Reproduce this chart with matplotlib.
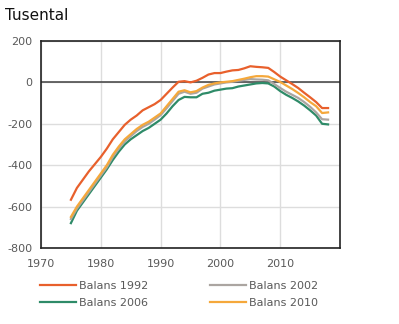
import matplotlib
matplotlib.use("Agg")
import matplotlib.pyplot as plt
import numpy as np

years = list(range(1975, 2019))
balans_1992 = [-567, -510, -470, -430, -395, -360, -320, -275, -240, -205, -180, -160, -135, -120, -105, -85,
               -55, -25, 3, 6, 0, 8, 22, 38, 45, 45, 52, 58, 60, 68, 78, 75, 73, 70, 50, 28,
               10, -8, -27, -50, -72, -95, -124, -124]
balans_2002 = [-660, -610, -570, -530, -490, -450, -410, -360, -320, -285, -260, -235, -215, -200, -180, -158,
               -125, -90, -55, -45, -55, -50, -30, -20, -10, -5, 0, 3, 8, 12, 16, 14, 13, 10, -8, -27,
               -45, -60, -75, -95, -118, -145, -178, -180]
balans_2006 = [-680, -620, -580, -540, -500, -460, -420, -375, -335, -300, -275, -255, -235, -220, -200, -180,
               -150, -115, -85, -70, -72, -72, -55, -50, -40, -35, -30, -28, -20, -15, -10, -5, -3, -5, -20, -42,
               -60, -75, -92, -112, -135, -160, -200, -203]
balans_2010 = [-650, -600, -560, -520, -480, -440, -400, -350, -310, -275, -250, -225, -205, -190, -170, -150,
               -115, -80, -45, -38, -48, -42, -25, -12, -5, 0, 3, 6, 12, 18, 25, 30, 30, 28, 15, 2,
               -15, -32, -51, -72, -95, -115, -148, -145]
xticks = [1970, 1980, 1990, 2000, 2010]
yticks = [-800, -600, -400, -200, 0, 200]

fig = plt.figure(figsize=(3.99, 3.24), dpi=100)
ax = fig.add_axes([0.1028, 0.2346, 0.7494, 0.6389])

lw = 1.6
ax.plot(years, balans_1992, color="#E8602C", lw=lw, label="Balans 1992", zorder=3)
ax.plot(years, balans_2006, color="#2E8B68", lw=lw, label="Balans 2006", zorder=3)
ax.plot(years, balans_2002, color="#ABA5A1", lw=lw, label="Balans 2002", zorder=3)
ax.plot(years, balans_2010, color="#F5A83B", lw=lw, label="Balans 2010", zorder=3)
ax.axhline(0, color="#404040", lw=1.1, zorder=2)

ax.set_xlim(1970, 2020)
ax.set_ylim(-800, 200)
ax.set_xticks(xticks)
ax.set_yticks(yticks)
ax.set_yticklabels([str(v) for v in yticks])
ax.grid(True, color="#DDDDDD", lw=1.0, zorder=0)
ax.tick_params(length=0, labelsize=8, colors="#595959")
ax.tick_params(axis="x", pad=8)
ax.tick_params(axis="y", pad=6)
for s in ax.spines.values():
    s.set_color("#222222")
    s.set_linewidth(1.2)

fig.text(0.012, 0.953, "Tusental", fontsize=11, color="#111111", ha="left", va="center")

handles, labels = ax.get_legend_handles_labels()
leg = fig.legend(handles, labels,
                 loc="upper left", bbox_to_anchor=(40 / 399, 1 - 281 / 324), ncol=2, frameon=False,
                 fontsize=8, labelcolor="#595959", handlelength=3.2, columnspacing=5.6,
                 handletextpad=0.3, labelspacing=0.6, borderpad=0, borderaxespad=0)
fig.savefig("out.png", dpi=100)
